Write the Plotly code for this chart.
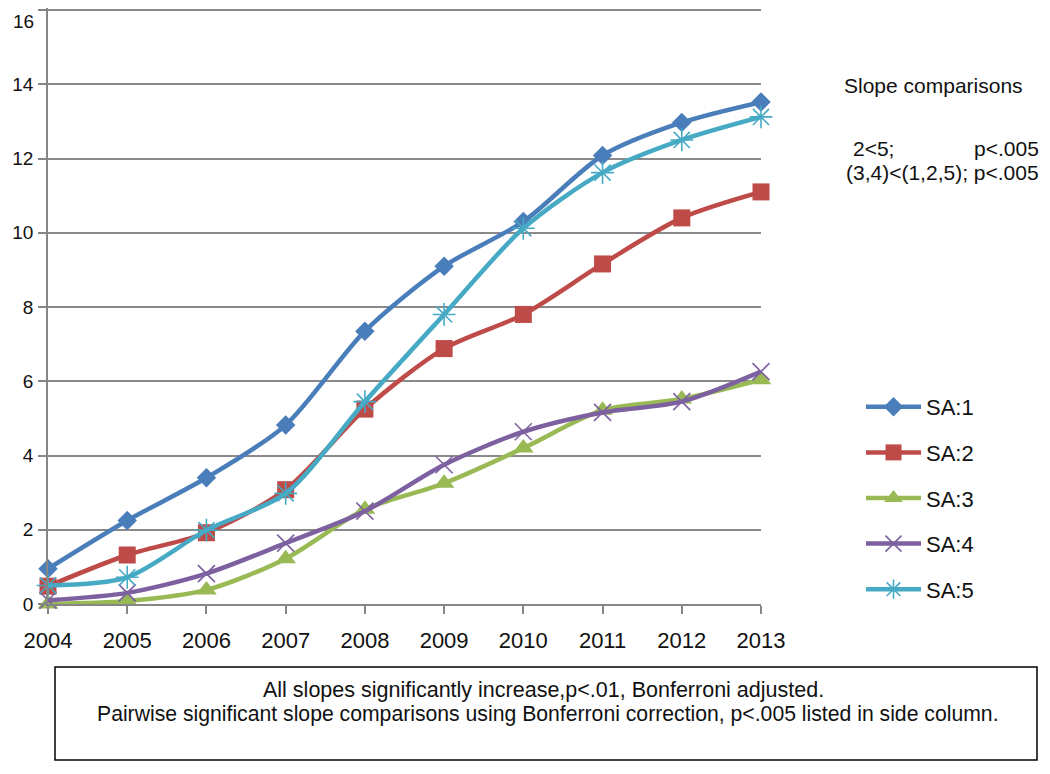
import plotly.graph_objects as go

years = [2004, 2005, 2006, 2007, 2008, 2009, 2010, 2011, 2012, 2013]
sa1 = [0.95, 2.25, 3.4, 4.82, 7.35, 9.1, 10.3, 12.08, 12.97, 13.52]
sa2 = [0.48, 1.32, 1.92, 3.08, 5.25, 6.88, 7.8, 9.16, 10.4, 11.1]
sa3 = [0.0, 0.08, 0.38, 1.22, 2.55, 3.25, 4.2, 5.22, 5.52, 6.04]
sa4 = [0.1, 0.3, 0.82, 1.64, 2.5, 3.75, 4.64, 5.16, 5.45, 6.26]
sa5 = [0.5, 0.72, 1.99, 2.98, 5.45, 7.8, 10.12, 11.62, 12.5, 13.12]
series_names = ["SA:1", "SA:2", "SA:3", "SA:4", "SA:5"]
y_ticks = [0, 2, 4, 6, 8, 10, 12, 14, 16]
y_labels = ["0", "2", "4", "6", "8", "10", "12", "14", "16"]
colors = ["#4A7EBB", "#BE4B48", "#98B954", "#7D60A0", "#46AAC5"]
symbols = ["diamond", "square", "triangle-up", "x-thin-open", "asterisk-open"]
sizes = [15, 17, 18, 17, 19]

fig = go.Figure()
for name, vals, c, s, sz in zip(series_names, [sa1, sa2, sa3, sa4, sa5], colors, symbols, sizes):
    open_sym = s.endswith("open")
    fig.add_trace(go.Scatter(
        x=years, y=vals, name=name, mode="lines+markers",
        line=dict(color=c, width=4.5, shape="spline", smoothing=0.8),
        marker=dict(symbol=s, size=sz, color=c,
                    line=dict(color=c, width=1.6 if open_sym else 0)),
        cliponaxis=False, legendgroup=name,
    ))

# page body has an 8px margin: work in screen coords, shift by OFF
OFF = 8
W, H = 1050 - OFF, 774 - OFF
L, T = 48 - OFF, 0
PR, PB = 761 - OFF, 604 - OFF
pw, ph = PR - L, PB - T
YTOP = y_ticks[-1]
YMAX = YTOP * PB / (PB - (10 - OFF))  # so that the top tick sits at screen y=10

def px(x):
    return (x - OFF - L) / pw

def py(y):
    return (PB - (y - OFF)) / ph

font = "Liberation Sans, Arial, sans-serif"
grid_col = "#8a8a8a"
fig.update_layout(
    width=W, height=H,
    margin=dict(l=L, r=W - PR, t=T, b=H - PB, autoexpand=False),
    paper_bgcolor="white", plot_bgcolor="white",
    font=dict(family=font, color="#111111"),
    showlegend=True,
    legend=dict(x=px(861), y=py(386), xanchor="left", yanchor="top",
                font=dict(size=22, family=font), tracegroupgap=14, itemwidth=55,
                bgcolor="rgba(0,0,0,0)"),
    xaxis=dict(range=[2004, 2013], tickmode="linear", tick0=2004, dtick=1,
               showgrid=False, showline=True, linecolor="#868686", linewidth=1.5,
               ticks="outside", ticklen=8, tickcolor="#868686", tickwidth=1.5,
               tickfont=dict(size=22), zeroline=False, ticklabelstandoff=8),
    yaxis=dict(range=[0, YMAX], tickmode="array", tickvals=y_ticks,
               ticktext=y_labels[:-1] + [""],
               showgrid=True, gridcolor=grid_col, gridwidth=1.5,
               showline=True, linecolor="#868686", linewidth=1.5,
               ticks="outside", ticklen=8, tickcolor="#868686", tickwidth=1.5,
               tickfont=dict(size=19), zeroline=False, ticklabelstandoff=1),
)

# top gridline + its label (kept inside the visible page)
fig.add_shape(type="line", xref="paper", yref="y", x0=px(40), x1=1, y0=YTOP, y1=YTOP,
              line=dict(color=grid_col, width=1.5), layer="below")
fig.add_annotation(text=y_labels[-1], xref="paper", yref="y", x=px(36), y=YTOP,
                   xanchor="right", yanchor="top", yshift=1, showarrow=False,
                   font=dict(size=19, family=font, color="#111111"))

ann = [
    dict(text="Slope comparisons", x=px(842), y=py(86), xanchor="left", size=21),
    dict(text="2<5;", x=px(851), y=py(148), xanchor="left", size=21),
    dict(text="p<.005", x=px(1041), y=py(148), xanchor="right", size=21),
    dict(text="(3,4)<(1,2,5); p<.005", x=px(1041), y=py(172), xanchor="right", size=21),
    dict(text="All slopes significantly increase,p<.01, Bonferroni adjusted.", x=px(543), y=py(690), xanchor="center", size=21.5),
    dict(text="Pairwise significant slope comparisons using Bonferroni correction, p<.005 listed in side column.", x=px(548), y=py(714), xanchor="center", size=21.2),
]
for a in ann:
    fig.add_annotation(text=a["text"], x=a["x"], y=a["y"], xref="paper", yref="paper",
                       xanchor=a["xanchor"], yanchor="middle", showarrow=False,
                       font=dict(size=a["size"], family=font, color="#111111"))

fig.add_shape(type="rect", xref="paper", yref="paper",
              x0=px(55), x1=px(1037), y0=py(667), y1=py(760),
              line=dict(color="black", width=1.5), fillcolor="rgba(0,0,0,0)")

fig.write_html("out.html")
